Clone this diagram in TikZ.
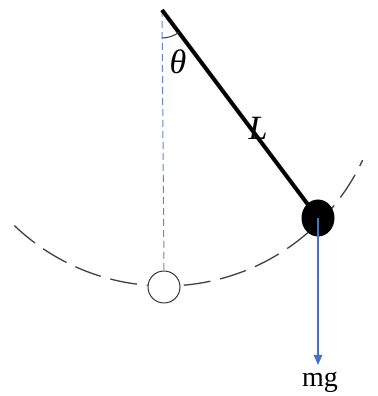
\documentclass[tikz,border=0pt]{standalone}
\usepackage{fontspec}
\setmainfont{Liberation Serif}
\usetikzlibrary{arrows.meta, calc, shapes.geometric}
\definecolor{forceblue}{HTML}{4472C4}
\tikzset{
  >={Triangle[length=5pt, width=4.2pt]},
  every picture/.style={line cap=butt, line join=round},
  rod/.style={line width=2pt, black},
  swing/.style={draw=black!75, line width=0.65pt, dash pattern=on 13.5pt off 5pt},
  plumb/.style={draw=forceblue!85, line width=0.5pt, dash pattern=on 3.5pt off 2pt},
  force/.style={->, draw=forceblue, line width=0.6pt},
  lbl/.style={inner sep=0pt, font=\fontsize{17}{20}\selectfont\itshape},
  % bob in the swung position and at rest
  bobfull/.style={ellipse, fill=black, minimum width=16.5pt, minimum height=18.5pt, inner sep=0pt},
  bobrest/.style={circle, draw=black!80, line width=0.5pt, fill=white, minimum size=16pt, inner sep=0pt},
}
\begin{document}
\begin{tikzpicture}[x=0.5pt, y=0.5pt]
  \useasboundingbox (0,0) rectangle (377,396);
  \coordinate (pivot) at (162,386);
  \coordinate (arcc) at (165,328);
  % path of the bob
  \draw[swing] ($(arcc)+(226.3:218)$) arc[start angle=226.3, end angle=335, radius=218];
  \node[bobrest] (rest) at (164,109) {};
  \draw[plumb] (pivot) -- (rest.north);
  \node[bobfull] (bob) at (318,178) {};
  \draw[rod] (pivot) -- (bob.center);
  \draw[line width=0.5pt, black!80] ($(pivot)+(270:28)$) arc[start angle=270, end angle=306.9, radius=28];
  \node[lbl] (theta) at (178,334) {θ};
  \node[lbl] (len) at (258,268) {L};
  \coordinate (tip) at (318,31);
  \draw[force] (bob.center) -- (tip);
  \node[inner sep=0pt, font=\fontsize{14}{16}\selectfont] (mg) at (320,14) {mg};
\end{tikzpicture}
\end{document}
